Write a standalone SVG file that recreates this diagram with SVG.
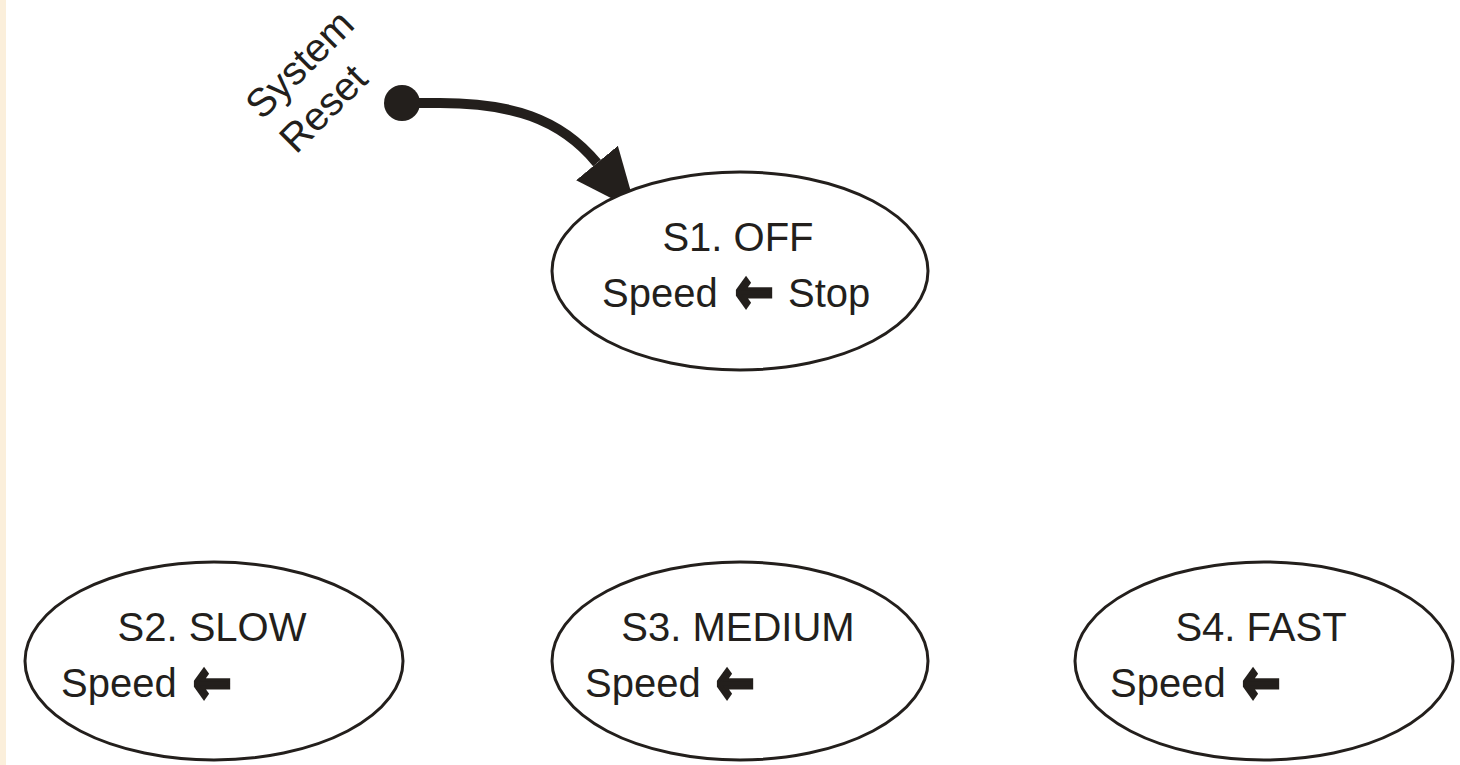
<svg xmlns="http://www.w3.org/2000/svg" width="1460" height="765" viewBox="0 0 1460 765">
  <style>
    .state { fill: #ffffff; stroke: #231f1c; stroke-width: 3; }
    .lbl { font-family: "Liberation Sans", Arial, sans-serif; font-size: 40px; fill: #231f1c; }
    .arr { font-family: "DejaVu Sans", sans-serif; font-weight: bold; font-size: 46px; fill: #231f1c; stroke: #231f1c; stroke-width: 2.6; stroke-linejoin: miter; }
    .conn { fill: none; stroke: #231f1c; stroke-width: 10; }
  </style>
  <defs>
    <marker id="head" markerUnits="userSpaceOnUse" viewBox="0 -28 64 56" refX="0" refY="0" markerWidth="64" markerHeight="56" orient="auto">
      <path d="M0,-27 L62,0 L0,27 Z" fill="#231f1c"/>
    </marker>
  </defs>
  <rect x="0" y="0" width="1460" height="765" fill="#ffffff"/>
  <rect x="0" y="0" width="6" height="765" fill="#fbefdb"/>

  <g id="connectors">
    <circle cx="402" cy="103" r="18" fill="#231f1c"/>
    <path class="conn" d="M402,103 L440,103 C510,103 560,118 597,163" marker-end="url(#head)"/>
    <text class="lbl" transform="translate(262,121) rotate(-45)"><tspan x="0" y="0">System</tspan><tspan x="0" y="48">Reset</tspan></text>
  </g>

  <g id="s1">
    <ellipse class="state" cx="740" cy="271" rx="188" ry="99"/>
    <text class="lbl" x="738" y="251" text-anchor="middle">S1. OFF</text>
    <text class="lbl" x="602" y="307">Speed</text>
    <text class="arr" transform="translate(735,313) scale(1,1.4)">←</text>
    <text class="lbl" x="788" y="307">Stop</text>
  </g>

  <g id="s2">
    <ellipse class="state" cx="214" cy="661" rx="189" ry="99"/>
    <text class="lbl" x="212" y="641" text-anchor="middle">S2. SLOW</text>
    <text class="lbl" x="61" y="697">Speed</text>
    <text class="arr" transform="translate(193,704) scale(1,1.4)">←</text>
  </g>

  <g id="s3">
    <ellipse class="state" cx="740" cy="661" rx="188" ry="99"/>
    <text class="lbl" x="738" y="641" text-anchor="middle">S3. MEDIUM</text>
    <text class="lbl" x="585" y="697">Speed</text>
    <text class="arr" transform="translate(716,704) scale(1,1.4)">←</text>
  </g>

  <g id="s4">
    <ellipse class="state" cx="1264" cy="661" rx="189" ry="99"/>
    <text class="lbl" x="1261" y="641" text-anchor="middle">S4. FAST</text>
    <text class="lbl" x="1110" y="697">Speed</text>
    <text class="arr" transform="translate(1242,704) scale(1,1.4)">←</text>
  </g>
</svg>
